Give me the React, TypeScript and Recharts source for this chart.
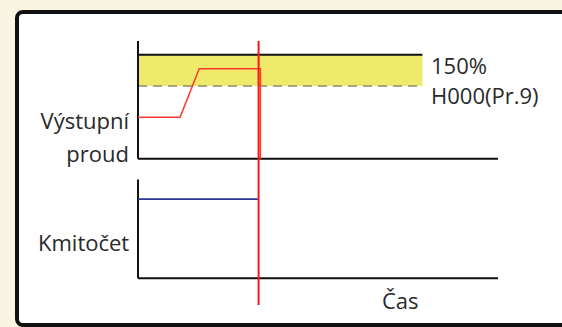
import React from 'react';
import { ComposedChart, Line, XAxis, YAxis, ReferenceLine, ReferenceArea } from 'recharts';

// time axis (schematic units)
const timeEnd = 100;
const bandEnd = 79;
const tripTime = 33.5;

// output current, % of rated
const currentTime = [0, 11.7, 17, 34, 34];
const currentPct = [60, 60, 130, 130, 0];
const overloadPct = 150;
const h000Pct = 105;
const currentAxisTop = 170;

// output frequency, % of set value
const freqTime = [0, 33.3];
const freqValue = [80, 80];
const freqAxisTop = 100;

// labels
const currentLabel = ['Výstupní', 'proud'];
const freqLabel = 'Kmitočet';
const timeLabel = 'Čas';
const overloadLabel = '150%';
const h000Label = 'H000(Pr.9)';

// both panels share one y scale: frequency at the bottom, current shifted above it
const UPPER_BASE = 121;
const PCT = 0.7;
const toUpper = (p: number) => UPPER_BASE + p * PCT;
const TRIP_BOTTOM = -27;

const currentData = currentTime.map((t, i) => ({ t, v: toUpper(currentPct[i]) }));
const freqData = freqTime.map((t, i) => ({ t, v: freqValue[i] }));

const AXIS = '#111';
const FONT = '"Open Sans", sans-serif';

export default function App() {
  return (
    <div
      style={{
        position: 'fixed',
        left: 0,
        top: 0,
        width: 562,
        height: 327,
        overflow: 'hidden',
        background: '#f8f6e2',
        fontFamily: FONT,
      }}
    >
      <div
        style={{
          position: 'absolute',
          left: 15,
          top: 10,
          width: 620,
          height: 317,
          boxSizing: 'border-box',
          border: '4px solid #111',
          borderRadius: 8,
          background: '#fff',
        }}
      />
      <div style={{ position: 'absolute', left: 0, top: 0 }}>
        <ComposedChart
          width={562}
          height={327}
          margin={{ top: 41, right: 64, bottom: 22, left: 138 }}
        >
          <XAxis type="number" dataKey="t" domain={[0, timeEnd]} hide />
          <YAxis type="number" domain={[TRIP_BOTTOM, toUpper(currentAxisTop)]} hide />

          <ReferenceArea
            x1={0}
            x2={bandEnd}
            y1={toUpper(h000Pct)}
            y2={toUpper(overloadPct)}
            fill="#efe96c"
            fillOpacity={1}
            stroke="none"
          />
          <ReferenceLine
            segment={[{ x: 0, y: toUpper(overloadPct) }, { x: bandEnd, y: toUpper(overloadPct) }]}
            stroke={AXIS}
            strokeWidth={2}
          />
          <ReferenceLine
            segment={[{ x: 0, y: toUpper(h000Pct) }, { x: bandEnd, y: toUpper(h000Pct) }]}
            stroke="#8c8a72"
            strokeWidth={1.5}
            strokeDasharray="9 6"
          />

          {/* upper panel axes */}
          <ReferenceLine
            segment={[{ x: 0, y: toUpper(0) }, { x: 0, y: toUpper(currentAxisTop) }]}
            stroke={AXIS}
            strokeWidth={2}
          />
          <ReferenceLine
            segment={[{ x: 0, y: toUpper(0) }, { x: timeEnd, y: toUpper(0) }]}
            stroke={AXIS}
            strokeWidth={2}
          />
          {/* lower panel axes */}
          <ReferenceLine
            segment={[{ x: 0, y: 0 }, { x: 0, y: freqAxisTop }]}
            stroke={AXIS}
            strokeWidth={2}
          />
          <ReferenceLine
            segment={[{ x: 0, y: 0 }, { x: timeEnd, y: 0 }]}
            stroke={AXIS}
            strokeWidth={2}
          />

          <Line
            data={currentData}
            dataKey="v"
            type="linear"
            stroke="#ff3a2a"
            strokeWidth={1.5}
            dot={false}
            isAnimationActive={false}
          />
          <Line
            data={freqData}
            dataKey="v"
            type="linear"
            stroke="#2a3596"
            strokeWidth={1.8}
            dot={false}
            isAnimationActive={false}
          />

          <ReferenceLine
            segment={[{ x: tripTime, y: TRIP_BOTTOM }, { x: tripTime, y: toUpper(currentAxisTop) }]}
            stroke="#ff1414"
            strokeWidth={2}
          />
        </ComposedChart>
      </div>
      <svg
        width={562}
        height={327}
        style={{ position: 'absolute', left: 0, top: 0, pointerEvents: 'none' }}
        fontFamily={FONT}
        fontSize={22}
        fontWeight={500}
        fill="#2a2a2a"
      >
        <text x={129} y={129} textAnchor="end">{currentLabel[0]}</text>
        <text x={129} y={162} textAnchor="end">{currentLabel[1]}</text>
        <text x={38} y={251}>{freqLabel}</text>
        <text x={382} y={309}>{timeLabel}</text>
        <text x={431} y={74}>{overloadLabel}</text>
        <text x={431} y={104}>{h000Label}</text>
      </svg>
    </div>
  );
}
